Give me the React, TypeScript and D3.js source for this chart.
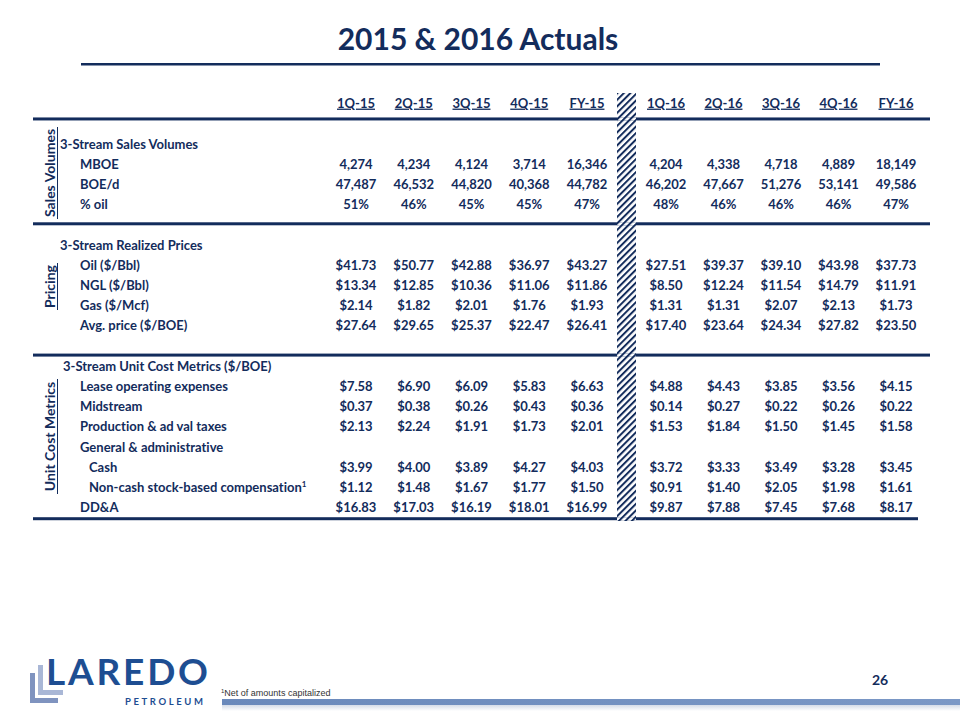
import React from "react";
import * as d3 from "d3";

const columns2015 = ["1Q-15", "2Q-15", "3Q-15", "4Q-15", "FY-15"];
const columns2016 = ["1Q-16", "2Q-16", "3Q-16", "4Q-16", "FY-16"];

const mboe = [4274, 4234, 4124, 3714, 16346, 4204, 4338, 4718, 4889, 18149];
const boed = [47487, 46532, 44820, 40368, 44782, 46202, 47667, 51276, 53141, 49586];
const pctOil = [51, 46, 45, 45, 47, 48, 46, 46, 46, 47];
const oil = [41.73, 50.77, 42.88, 36.97, 43.27, 27.51, 39.37, 39.1, 43.98, 37.73];
const ngl = [13.34, 12.85, 10.36, 11.06, 11.86, 8.5, 12.24, 11.54, 14.79, 11.91];
const gas = [2.14, 1.82, 2.01, 1.76, 1.93, 1.31, 1.31, 2.07, 2.13, 1.73];
const avgPrice = [27.64, 29.65, 25.37, 22.47, 26.41, 17.4, 23.64, 24.34, 27.82, 23.5];
const loe = [7.58, 6.9, 6.09, 5.83, 6.63, 4.88, 4.43, 3.85, 3.56, 4.15];
const midstream = [0.37, 0.38, 0.26, 0.43, 0.36, 0.14, 0.27, 0.22, 0.26, 0.22];
const prodTax = [2.13, 2.24, 1.91, 1.73, 2.01, 1.53, 1.84, 1.5, 1.45, 1.58];
const gaCash = [3.99, 4.0, 3.89, 4.27, 4.03, 3.72, 3.33, 3.49, 3.28, 3.45];
const gaNonCash = [1.12, 1.48, 1.67, 1.77, 1.5, 0.91, 1.4, 2.05, 1.98, 1.61];
const dda = [16.83, 17.03, 16.19, 18.01, 16.99, 9.87, 7.88, 7.45, 7.68, 8.17];

type Row = { label: string; level: string; values?: number[]; fmt?: string; sup?: string };

const rows: (Row | null)[] = [
  { label: "3-Stream Sales Volumes", level: "head" },
  { label: "MBOE", level: "item", values: mboe, fmt: "," },
  { label: "BOE/d", level: "item", values: boed, fmt: "," },
  { label: "% oil", level: "item", values: pctOil, fmt: "pct" },
  null,
  { label: "3-Stream Realized Prices", level: "head" },
  { label: "Oil ($/Bbl)", level: "item", values: oil, fmt: "$" },
  { label: "NGL ($/Bbl)", level: "item", values: ngl, fmt: "$" },
  { label: "Gas ($/Mcf)", level: "item", values: gas, fmt: "$" },
  { label: "Avg. price ($/BOE)", level: "item", values: avgPrice, fmt: "$" },
  null,
  { label: "3-Stream Unit Cost Metrics ($/BOE)", level: "head2" },
  { label: "Lease operating expenses", level: "item", values: loe, fmt: "$" },
  { label: "Midstream", level: "item", values: midstream, fmt: "$" },
  { label: "Production & ad val taxes", level: "item", values: prodTax, fmt: "$" },
  { label: "General & administrative", level: "item" },
  { label: "Cash", level: "sub", values: gaCash, fmt: "$" },
  { label: "Non-cash stock-based compensation", level: "sub", values: gaNonCash, fmt: "$", sup: "1" },
  { label: "DD&A", level: "item", values: dda, fmt: "$" },
];

const sections = [
  { label: "Sales Volumes", from: 127, to: 219 },
  { label: "Pricing", from: 263, to: 310 },
  { label: "Unit Cost Metrics", from: 379, to: 494 },
];

const NAVY = "#132c5c";
const FONT = "Lato, 'Open Sans', sans-serif";

export default function App() {
  const x15 = d3.scaleLinear().domain([0, 4]).range([356, 587]);
  const x16 = d3.scaleLinear().domain([0, 4]).range([666, 896]);
  const colX = (i: number) => (i < 5 ? x15(i) : x16(i - 5));
  const y = d3.scaleLinear().domain([0, 18]).range([144, 507.6]);
  const labelX = d3.scaleOrdinal<string, number>().domain(["head", "head2", "item", "sub"]).range([60, 63, 80, 89]);
  const fComma = d3.format(",");
  const fDollar = d3.format("$.2f");
  const fmt = (v: number, f?: string) =>
    f === "," ? fComma(v) : f === "pct" ? `${v}%` : fDollar(v);
  const allCols = [...columns2015, ...columns2016];
  const fs = 13;
  const base = 4.6;
  const lines = [
    { y: y(-1.24), w: 897 },
    { y: y(3.95), w: 897 },
    { y: y(10.45), w: 897 },
    { y: y(18.55), w: 885 },
  ];

  return (
    <svg width={960} height={720} style={{ display: "block", position: "absolute", left: 0, top: 0, fontVariantLigatures: "none" }}
      fontFamily={FONT}>
      <defs>
        <pattern id="hatch" width="4.6" height="4.6" patternUnits="userSpaceOnUse" patternTransform="rotate(45)">
          <rect width="4.6" height="4.6" fill="#fff" />
          <rect x="0" y="0" width="2" height="4.6" fill={NAVY} />
        </pattern>
        <linearGradient id="bar" x1="0" x2="1" y1="0" y2="0">
          <stop offset="0" stopColor="#6a89bb" />
          <stop offset="1" stopColor="#7b98c6" />
        </linearGradient>
        <linearGradient id="shadow" x1="0" x2="0" y1="0" y2="1">
          <stop offset="0" stopColor="#d5dce8" />
          <stop offset="1" stopColor="#ffffff" />
        </linearGradient>
      </defs>
      <rect width={960} height={720} fill="#fff" />

      {/* title */}
      <text x={478} y={50} textAnchor="middle" fontSize={30} fontWeight={700} fill={NAVY}
        fontFamily="Lato, 'Open Sans', sans-serif">
        2015 &amp; 2016 Actuals
      </text>
      <rect x={81} y={63} width={799} height={2.5} fill={NAVY} />

      {/* hatched divider */}
      <rect x={617} y={93} width={19} height={428} fill="url(#hatch)" />

      {/* header */}
      {allCols.map((c, i) => (
        <text key={c} x={colX(i)} y={y(-2.03) + base} textAnchor="middle" fontSize={fs} fontWeight={700}
          fill={NAVY} textDecoration="underline">
          {c}
        </text>
      ))}

      {/* separator lines */}
      {lines.map((l, i) => (
        <g key={i}>
          <rect x={33} y={l.y - 1.5} width={l.w} height={3} fill={NAVY} />
          <rect x={617} y={l.y - 1.5} width={19} height={3} fill="url(#hatch)" />
        </g>
      ))}

      {/* section labels */}
      {sections.map((s) => {
        const cy = (s.from + s.to) / 2;
        return (
          <g key={s.label}>
            <text transform={`translate(55,${cy}) rotate(-90)`} textAnchor="middle" fontSize={14}
              fontWeight={700} fill={NAVY}>
              {s.label}
            </text>
            <line x1={57.5} x2={57.5} y1={s.from} y2={s.to} stroke={NAVY} strokeWidth={1} />
          </g>
        );
      })}

      {/* rows */}
      {rows.map((r, i) =>
        r ? (
          <g key={r.label}>
            <text x={labelX(r.level)} y={y(i) + base} fontSize={fs} fontWeight={700} fill={NAVY}>
              {r.label}
              {r.sup ? (
                <tspan fontSize={8} dy={-5}>
                  {r.sup}
                </tspan>
              ) : null}
            </text>
            {r.values
              ? r.values.map((v, j) => (
                  <text key={j} x={colX(j)} y={y(i) + base} textAnchor="middle" fontSize={fs}
                    fontWeight={700} fill={NAVY}>
                    {fmt(v, r.fmt)}
                  </text>
                ))
              : null}
          </g>
        ) : null
      )}

      {/* footer */}
      <rect x={222} y={705} width={738} height={6} fill="url(#shadow)" />
      <rect x={222} y={699} width={738} height={6} fill="url(#bar)" />
      <text x={221} y={696} fontSize={9} fill="#333" fontFamily="'Liberation Sans Narrow', sans-serif">
        <tspan fontSize={6} dy={-3}>1</tspan>
        <tspan dy={3}>Net of amounts capitalized</tspan>
      </text>
      <text x={880} y={685} textAnchor="middle" fontSize={14} fontWeight={700} fill={NAVY}>
        26
      </text>

      {/* logo */}
      <rect x={30} y={673} width={5} height={30} fill="#7f93bf" />
      <rect x={30} y={698} width={28} height={5} fill="#7f93bf" />
      <rect x={38} y={665} width={5} height={30} fill="#a9b7d6" />
      <rect x={38} y={690} width={25} height={5} fill="#a9b7d6" />
      <text x={46} y={685} fontSize={37} fontWeight={700} fill="#1e4e92" letterSpacing={2.8}
        fontFamily="Lato, sans-serif">
        LAREDO
      </text>
      <text x={125} y={705} fontSize={9.5} fontWeight={700} fill="#1e4e92" letterSpacing={2.6}
        fontFamily="Lato, sans-serif">
        PETROLEUM
      </text>
    </svg>
  );
}
